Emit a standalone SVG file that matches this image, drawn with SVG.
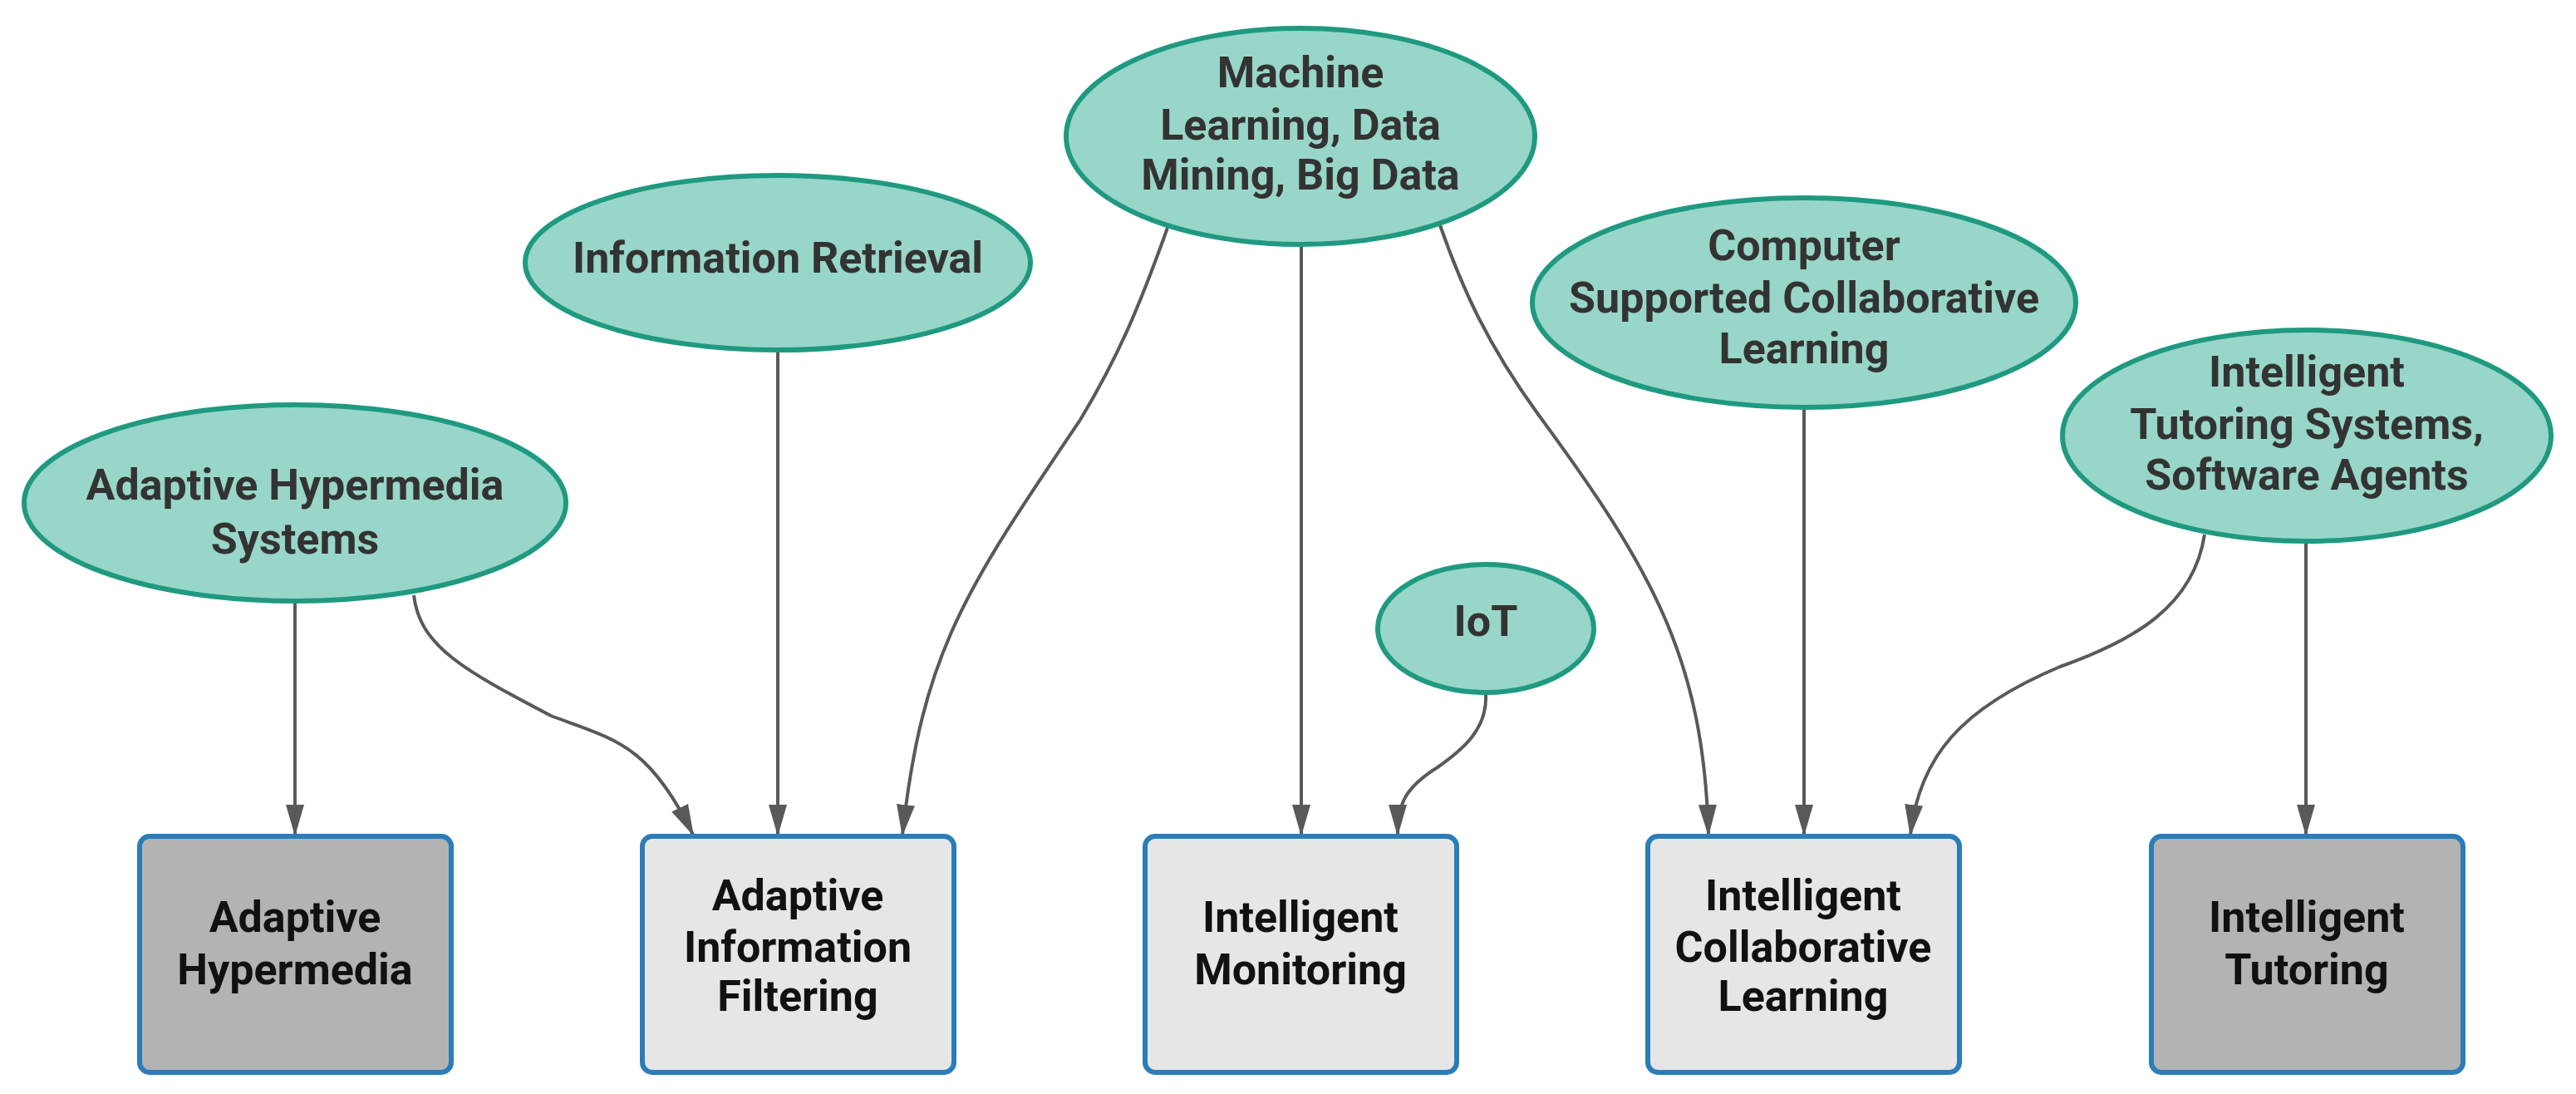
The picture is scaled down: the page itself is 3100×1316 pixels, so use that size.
<svg xmlns="http://www.w3.org/2000/svg" width="3100" height="1316" viewBox="0 0 3100 1316">
<defs>
<style>
.el{fill:#98d6c9;stroke:#1f9a80;stroke-width:6}
.bx{stroke:#2a7db8;stroke-width:6}
.lt{fill:#e6e6e6}.dk{fill:#b3b3b3}
text{font-family:Roboto,"Liberation Sans",sans-serif;font-weight:bold;font-size:52px;text-anchor:middle}
.et{fill:#333333}.bt{fill:#111111}
.c path{fill:none;stroke:#595959;stroke-width:4;marker-end:url(#ah)}
</style>
<marker id="ah" markerUnits="userSpaceOnUse" markerWidth="38" markerHeight="22" refX="36" refY="11" orient="auto" viewBox="0 0 38 22">
<path d="M0,0 L38,11 L0,22 Z" fill="#595959"/>
</marker>
</defs>
<rect width="3100" height="1316" fill="#ffffff"/>
<g class="c" id="connectors">
<path d="M355,724 L355,1004"/>
<path d="M936,422 L936,1004"/>
<path d="M1566,294 L1566,1004"/>
<path d="M2171,490 L2171,1004"/>
<path d="M2775,651 L2775,1004"/>
<path d="M498,716 C505,778 560,807 663,861 C740,890 780,894 834,1004"/>
<path d="M1405,274 C1370,372 1345,430 1300,505 C1160,712 1110,786 1086,1004"/>
<path d="M1733,271 C1760,348 1790,414 1850,497 C1990,687 2050,794 2056,1004"/>
<path d="M1788,836 C1790,877 1760,902 1730,923 C1690,948 1682,968 1682,1004"/>
<path d="M2653,643 C2640,728 2570,770 2479,802 C2360,852 2310,910 2299,1004"/>
</g>
<g id="n-ahs"><ellipse class="el" cx="355" cy="605" rx="326" ry="118"/><text class="et" x="355" y="601">Adaptive Hypermedia</text><text class="et" x="355" y="666">Systems</text></g>
<g id="n-ir"><ellipse class="el" cx="936" cy="316" rx="304" ry="105"/><text class="et" x="936" y="328">Information Retrieval</text></g>
<g id="n-ml"><ellipse class="el" cx="1565" cy="164" rx="282" ry="130"/><text class="et" x="1565" y="105">Machine</text><text class="et" x="1565" y="168">Learning, Data</text><text class="et" x="1565" y="228">Mining, Big Data</text></g>
<g id="n-iot"><ellipse class="el" cx="1788" cy="756" rx="130" ry="77"/><text class="et" x="1788" y="765">IoT</text></g>
<g id="n-cscl"><ellipse class="el" cx="2171" cy="364" rx="327" ry="126"/><text class="et" x="2171" y="313">Computer</text><text class="et" x="2171" y="376">Supported Collaborative</text><text class="et" x="2171" y="437">Learning</text></g>
<g id="n-its"><ellipse class="el" cx="2776" cy="524" rx="294" ry="127"/><text class="et" x="2776" y="465">Intelligent</text><text class="et" x="2776" y="528">Tutoring Systems,</text><text class="et" x="2776" y="589">Software Agents</text></g>
<g id="b-ah"><rect class="bx dk" x="168" y="1006" width="375" height="284" rx="12"/><text class="bt" x="355" y="1121">Adaptive</text><text class="bt" x="355" y="1184">Hypermedia</text></g>
<g id="b-aif"><rect class="bx lt" x="773" y="1006" width="375" height="284" rx="12"/><text class="bt" x="960" y="1095">Adaptive</text><text class="bt" x="960" y="1157">Information</text><text class="bt" x="960" y="1216">Filtering</text></g>
<g id="b-im"><rect class="bx lt" x="1378" y="1006" width="375" height="284" rx="12"/><text class="bt" x="1565" y="1121">Intelligent</text><text class="bt" x="1565" y="1184">Monitoring</text></g>
<g id="b-icl"><rect class="bx lt" x="1983" y="1006" width="375" height="284" rx="12"/><text class="bt" x="2170" y="1095">Intelligent</text><text class="bt" x="2170" y="1157">Collaborative</text><text class="bt" x="2170" y="1216">Learning</text></g>
<g id="b-it"><rect class="bx dk" x="2589" y="1006" width="375" height="284" rx="12"/><text class="bt" x="2776" y="1121">Intelligent</text><text class="bt" x="2776" y="1184">Tutoring</text></g>
</svg>
